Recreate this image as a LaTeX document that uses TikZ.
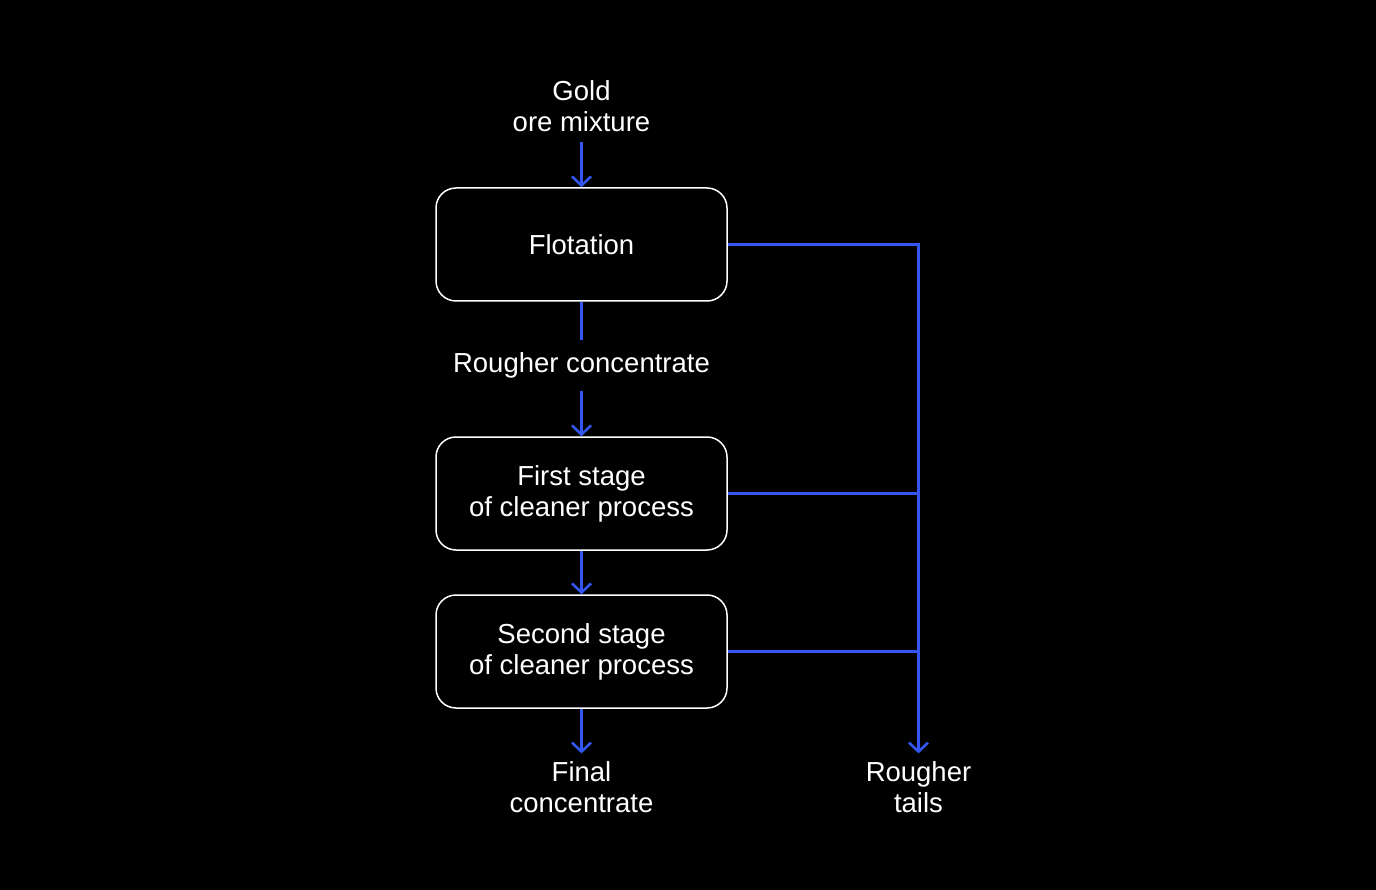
\documentclass[tikz,border=0pt]{standalone}
\usepackage{fontspec}
\setmainfont{Liberation Sans}
\usetikzlibrary{positioning, arrows.meta}
\definecolor{flowblue}{RGB}{52,86,240}

\begin{document}
\begin{tikzpicture}[x=1pt, y=-1pt,
		stage/.style={rectangle, rounded corners=20pt, draw=white, line width=1.5pt, text=white, minimum width=291pt, minimum height=113pt, align=center, font=\fontsize{27.5}{31}\selectfont},
		lbl/.style={text=white, align=center, inner sep=5pt, font=\fontsize{27.5}{31}\selectfont},
		flow/.style={draw=flowblue, line width=2.6pt},
		tip/.style={-{Straight Barb[length=9pt, width=19pt, line width=2.6pt]}}]
		\fill[black] (0,0) rectangle (1376,890);

		\node[stage] (Flot) at (581.5,244.5) {Flotation};
		\node[stage] (First) at (581.5,493.5) {First stage\\of cleaner process};
		\node[stage] (Second) at (581.5,651.5) {Second stage\\of cleaner process};

		\node[lbl, outer sep=5pt] (Feed) at (581.5,106.5) {Gold\\ore mixture};
		\node[lbl, inner sep=12pt] (Rc) at (581.5,365.5) {Rougher concentrate};
		\node[lbl, outer sep=3pt] (Final) at (581.5,787) {Final\\concentrate};
		\node[lbl, outer sep=3pt] (Tails) at (918.5,787) {Rougher\\tails};

		\path[flow, tip] (Feed) edge (Flot);
		\path[flow] (Flot) edge (Rc);
		\path[flow, tip] (Rc) edge (First);
		\path[flow, tip] (First) edge (Second);
		\path[flow, tip] (Second) edge (Final);

		\draw[flow, tip] (Flot.east) -| (Tails.north);
		\draw[flow] (First.east) -- (First.east -| Tails.north);
		\draw[flow] (Second.east) -- (Second.east -| Tails.north);
	\end{tikzpicture}
\end{document}
